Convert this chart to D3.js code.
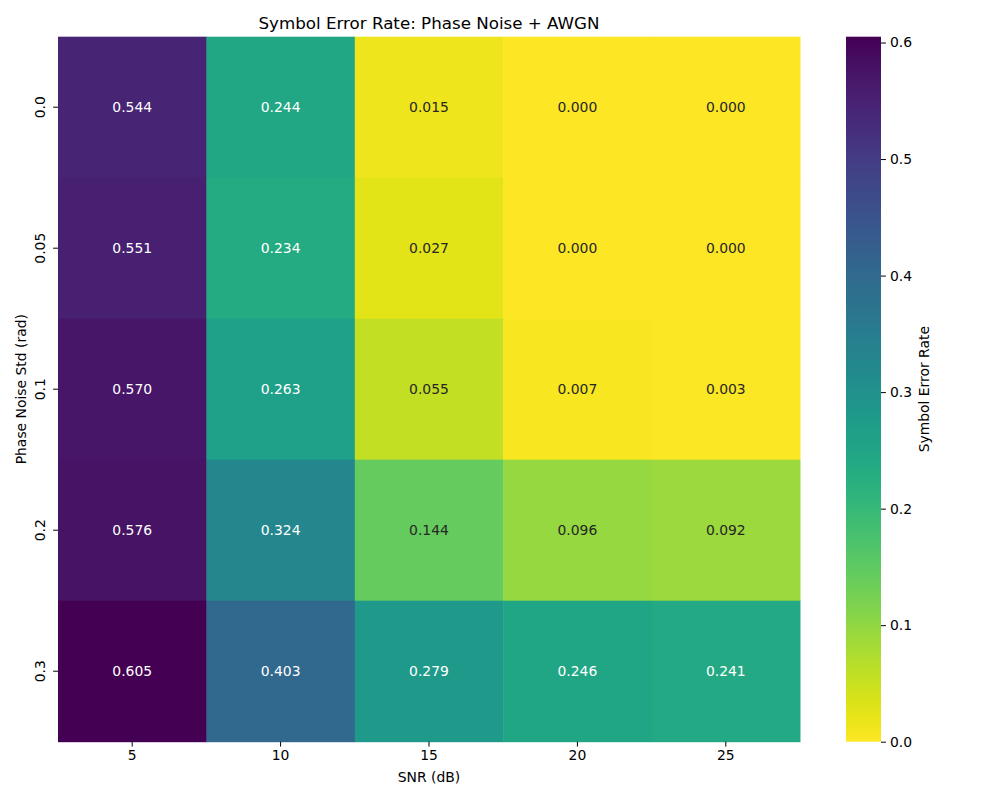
<!DOCTYPE html>
<html>
<head>
<meta charset="utf-8">
<script src="https://cdn.jsdelivr.net/npm/d3@7"></script>
<style>
  body { margin: 0; background: #fff; }
  svg { font-family: "DejaVu Sans", sans-serif; }
</style>
</head>
<body>
<div id="chart"></div>
<script>
// data
const snrLabels = ["5", "10", "15", "20", "25"];
const phaseLabels = ["0.0", "0.05", "0.1", "0.2", "0.3"];
const serRows = [
  [0.544, 0.244, 0.015, 0.000, 0.000],
  [0.551, 0.234, 0.027, 0.000, 0.000],
  [0.570, 0.263, 0.055, 0.007, 0.003],
  [0.576, 0.324, 0.144, 0.096, 0.092],
  [0.605, 0.403, 0.279, 0.246, 0.241]
];
const cbarTicks = [0.0, 0.1, 0.2, 0.3, 0.4, 0.5, 0.6];

const W = 1000, H = 800;
const plot = { left: 58, top: 36.7, right: 800, bottom: 741.7 };
const cbar = { left: 846, right: 881 };

const svg = d3.select("#chart").append("svg")
  .attr("width", W).attr("height", H);

const vmax = d3.max(serRows.flat());
const color = d3.scaleSequential(t => d3.interpolateViridis(1 - t)).domain([0, vmax]);

const x = d3.scaleBand().domain(snrLabels).range([plot.left, plot.right]);
const y = d3.scaleBand().domain(phaseLabels).range([plot.top, plot.bottom]);

const cells = [];
serRows.forEach((row, i) => row.forEach((v, j) => cells.push({ r: phaseLabels[i], c: snrLabels[j], v })));

// relative luminance, like seaborn's annotation colour choice
function lum(c) {
  const rgb = d3.rgb(c);
  const f = u => { u /= 255; return u <= 0.03928 ? u / 12.92 : Math.pow((u + 0.055) / 1.055, 2.4); };
  return 0.2126 * f(rgb.r) + 0.7152 * f(rgb.g) + 0.0722 * f(rgb.b);
}

svg.append("g").selectAll("rect")
  .data(cells)
  .join("rect")
  .attr("x", d => x(d.c))
  .attr("y", d => y(d.r))
  .attr("width", x.bandwidth() + 0.5)
  .attr("height", y.bandwidth() + 0.5)
  .attr("fill", d => color(d.v));

svg.append("g").selectAll("text")
  .data(cells)
  .join("text")
  .attr("x", d => x(d.c) + x.bandwidth() / 2)
  .attr("y", d => y(d.r) + y.bandwidth() / 2)
  .attr("text-anchor", "middle")
  .attr("dominant-baseline", "central")
  .attr("font-size", 13.9)
  .attr("fill", d => lum(color(d.v)) > 0.408 ? "#262626" : "#fff")
  .text(d => d.v.toFixed(3));

// x axis
const xAxis = svg.append("g")
  .attr("transform", `translate(0,${plot.bottom})`)
  .call(d3.axisBottom(x).tickSize(4.9).tickPadding(4));
xAxis.select(".domain").remove();
xAxis.selectAll("text").attr("font-size", 13.9).attr("fill", "#000").attr("font-family", "DejaVu Sans");
xAxis.selectAll("line").attr("stroke", "#000").attr("stroke-width", 1);

// y axis with vertical labels
const yAxis = svg.append("g")
  .attr("transform", `translate(${plot.left},0)`)
  .call(d3.axisLeft(y).tickSize(4.9).tickPadding(4));
yAxis.select(".domain").remove();
yAxis.selectAll("line").attr("stroke", "#000").attr("stroke-width", 1);
yAxis.selectAll("text")
  .attr("font-size", 13.9).attr("fill", "#000").attr("font-family", "DejaVu Sans")
  .attr("x", null).attr("dy", null)
  .attr("text-anchor", "middle")
  .attr("transform", "translate(-13,0) rotate(-90)");

// labels
svg.append("text")
  .attr("x", (plot.left + plot.right) / 2).attr("y", 782)
  .attr("text-anchor", "middle").attr("font-size", 13.9)
  .text("SNR (dB)");

svg.append("text")
  .attr("transform", `translate(26,${(plot.top + plot.bottom) / 2}) rotate(-90)`)
  .attr("text-anchor", "middle").attr("font-size", 13.9)
  .text("Phase Noise Std (rad)");

svg.append("text")
  .attr("x", (plot.left + plot.right) / 2).attr("y", 29)
  .attr("text-anchor", "middle").attr("font-size", 16.7)
  .text("Symbol Error Rate: Phase Noise + AWGN");

// colorbar
const cy = d3.scaleLinear().domain([0, vmax]).range([plot.bottom, plot.top]);
const defs = svg.append("defs");
const grad = defs.append("linearGradient").attr("id", "cb")
  .attr("x1", 0).attr("y1", 1).attr("x2", 0).attr("y2", 0);
d3.range(0, 1.0001, 0.02).forEach(t => {
  grad.append("stop").attr("offset", t).attr("stop-color", color(t * vmax));
});
svg.append("rect")
  .attr("x", cbar.left).attr("y", plot.top)
  .attr("width", cbar.right - cbar.left).attr("height", plot.bottom - plot.top)
  .attr("fill", "url(#cb)");

const cAxis = svg.append("g")
  .attr("transform", `translate(${cbar.right},0)`)
  .call(d3.axisRight(cy).tickValues(cbarTicks).tickFormat(d3.format(".1f")).tickSize(4.9).tickPadding(4));
cAxis.select(".domain").remove();
cAxis.selectAll("line").attr("stroke", "#000");
cAxis.selectAll("text").attr("font-size", 13.9).attr("fill", "#000").attr("font-family", "DejaVu Sans");

svg.append("text")
  .attr("transform", `translate(929,${(plot.top + plot.bottom) / 2}) rotate(-90)`)
  .attr("text-anchor", "middle").attr("font-size", 13.9)
  .text("Symbol Error Rate");
</script>
</body>
</html>
